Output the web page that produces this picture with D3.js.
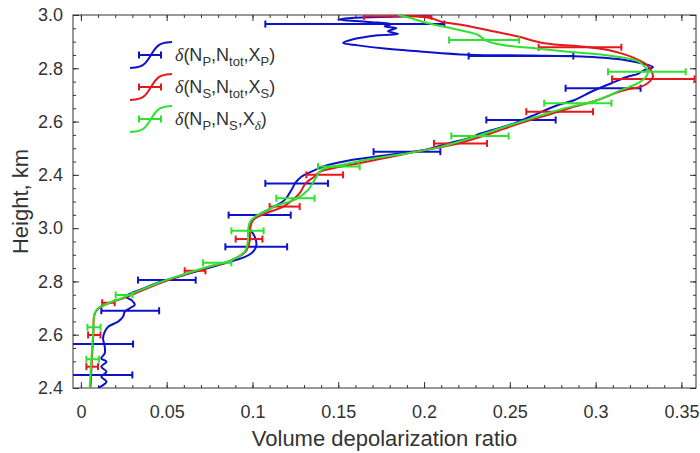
<!DOCTYPE html>
<html>
<head>
<meta charset="utf-8">
<script src="https://cdn.jsdelivr.net/npm/d3@7"></script>
<style>
  body { margin: 0; background: #fff; }
  svg { display: block; font-family: "Liberation Sans", Arial, sans-serif; }
</style>
</head>
<body>
<div id="chart"></div>
<script>
// axis ticks
const xTicks = [0, 0.05, 0.1, 0.15, 0.2, 0.25, 0.3, 0.35];
const xTickLabels = ["0", "0.05", "0.1", "0.15", "0.2", "0.25", "0.3", "0.35"];
const yTicks = [2.4, 2.6, 2.8, 3.0, 3.2, 3.4, 3.6, 3.8];
const yTickLabels = ["2.4", "2.6", "2.8", "3.0", "2.4", "2.6", "2.8", "3.0"];

// curves: [height, ratio]
const blueCurve = [
  [2.40, 0.010], [2.424, 0.0149], [2.442, 0.0119], [2.461, 0.0149], [2.480, 0.0119],
  [2.499, 0.0149], [2.511, 0.0119], [2.530, 0.0139], [2.555, 0.0139], [2.587, 0.0129],
  [2.611, 0.0139], [2.630, 0.0159], [2.649, 0.0217], [2.668, 0.0246], [2.686, 0.0255],
  [2.699, 0.0284], [2.712, 0.0314], [2.730, 0.0294], [2.743, 0.026], [2.752, 0.028],
  [2.775, 0.037], [2.80, 0.047], [2.82, 0.058], [2.845, 0.071], [2.868, 0.084],
  [2.89, 0.095], [2.906, 0.0994], [2.925, 0.1018], [2.943, 0.1023], [2.968, 0.1013],
  [3.0, 0.0984], [3.018, 0.0984], [3.049, 0.1033], [3.075, 0.111], [3.106, 0.1188],
  [3.143, 0.1227], [3.17, 0.125], [3.193, 0.1285], [3.212, 0.1343], [3.237, 0.144],
  [3.256, 0.1576], [3.268, 0.1712], [3.281, 0.1868], [3.293, 0.2003], [3.318, 0.214],
  [3.337, 0.2256], [3.356, 0.2334], [3.394, 0.2528], [3.431, 0.2664], [3.462, 0.2781],
  [3.481, 0.2878], [3.512, 0.2975], [3.544, 0.3092], [3.569, 0.3189], [3.579, 0.3247],
  [3.594, 0.3286], [3.604, 0.3334], [3.631, 0.3169], [3.644, 0.2917], [3.648, 0.2625],
  [3.651, 0.2256], [3.664, 0.1965], [3.674, 0.177], [3.686, 0.1615], [3.695, 0.1528],
  [3.707, 0.1576], [3.724, 0.1732], [3.729, 0.1849], [3.739, 0.179], [3.751, 0.1839],
  [3.757, 0.177], [3.766, 0.181], [3.774, 0.1674], [3.783, 0.1499], [3.789, 0.1576],
  [3.794, 0.1868], [3.799, 0.2043]
];
const redCurve = [
  [2.40, 0.0056], [2.505, 0.0064], [2.605, 0.0073], [2.675, 0.0079], [2.70, 0.0105],
  [2.72, 0.017], [2.74, 0.026], [2.775, 0.039], [2.80, 0.049], [2.825, 0.060],
  [2.855, 0.075], [2.88, 0.088], [2.912, 0.096], [2.956, 0.0985], [2.993, 0.0985],
  [3.031, 0.1005], [3.056, 0.108], [3.081, 0.118], [3.112, 0.1245], [3.131, 0.1275],
  [3.168, 0.131], [3.193, 0.136], [3.212, 0.1395], [3.225, 0.147], [3.243, 0.1615],
  [3.268, 0.181], [3.293, 0.2003], [3.318, 0.2198], [3.356, 0.2392], [3.387, 0.2528],
  [3.425, 0.2723], [3.456, 0.2878], [3.481, 0.3014], [3.506, 0.3111], [3.521, 0.3189],
  [3.531, 0.3266], [3.55, 0.3315], [3.569, 0.3334], [3.60, 0.3315], [3.619, 0.3286],
  [3.638, 0.3227], [3.656, 0.315], [3.669, 0.3072], [3.681, 0.2936], [3.694, 0.2703],
  [3.719, 0.2548], [3.738, 0.2411], [3.763, 0.2217], [3.775, 0.21], [3.788, 0.2043],
  [3.794, 0.1965], [3.80, 0.1868]
];
const greenCurve = [
  [2.40, 0.0051], [2.505, 0.0061], [2.605, 0.0071], [2.68, 0.008], [2.699, 0.010],
  [2.718, 0.0159], [2.737, 0.0236], [2.774, 0.0372], [2.799, 0.0469], [2.824, 0.0586],
  [2.855, 0.0741], [2.88, 0.0877], [2.912, 0.0955], [2.956, 0.0974], [2.993, 0.0974],
  [3.031, 0.0994], [3.056, 0.1052], [3.087, 0.1149], [3.106, 0.1246], [3.143, 0.1324],
  [3.181, 0.1362], [3.218, 0.1402], [3.237, 0.1518], [3.262, 0.1712], [3.281, 0.1907],
  [3.306, 0.2101], [3.343, 0.2295], [3.38, 0.247], [3.412, 0.2625], [3.45, 0.282],
  [3.481, 0.3014], [3.519, 0.315], [3.544, 0.3247], [3.569, 0.3295], [3.594, 0.3305],
  [3.606, 0.3286], [3.619, 0.3266], [3.631, 0.3227], [3.65, 0.3053], [3.662, 0.2839],
  [3.675, 0.2645], [3.688, 0.245], [3.707, 0.2353], [3.725, 0.2315], [3.75, 0.2159],
  [3.769, 0.2023], [3.788, 0.1926], [3.80, 0.1849]
];

// error bars: [height, low, high]
const blueBars = [
  [3.766, 0.1075, 0.2118], [3.646, 0.226, 0.287], [3.525, 0.2825, 0.3262],
  [3.406, 0.2363, 0.2767], [3.287, 0.1706, 0.2095], [3.168, 0.1075, 0.144],
  [3.049, 0.0861, 0.1223], [2.93, 0.0842, 0.1202], [2.805, 0.0333, 0.0669],
  [2.69, 0.0119, 0.0456], [2.565, -0.0056, 0.0304], [2.449, -0.006, 0.030]
];
const redBars = [
  [3.795, 0.165, 0.2043], [3.679, 0.2668, 0.315], [3.56, 0.3096, 0.3577],
  [3.437, 0.2596, 0.2985], [3.318, 0.2058, 0.2367], [3.2, 0.1314, 0.1528],
  [3.081, 0.11, 0.1275], [2.959, 0.0902, 0.1058], [2.84, 0.0605, 0.0726],
  [2.72, 0.0124, 0.0197], [2.599, 0.0042, 0.0114], [2.48, 0.0032, 0.010]
];
const greenBars = [
  [3.706, 0.2146, 0.2554], [3.587, 0.3072, 0.3525], [3.469, 0.27, 0.3092],
  [3.346, 0.2159, 0.2493], [3.231, 0.1382, 0.1625], [3.112, 0.1139, 0.1362],
  [2.99, 0.0877, 0.1065], [2.87, 0.0712, 0.0877], [2.749, 0.0203, 0.030],
  [2.628, 0.0038, 0.0115], [2.508, 0.0032, 0.0106]
];

const series = [
  { name: "blue", color: "#0c12c8", curve: blueCurve, bars: blueBars,
    label: [["δ", "it"], ["(N"], ["P", "sub"], [",N"], ["tot", "sub"], [",X"], ["P", "sub"], [")"]] },
  { name: "red", color: "#e5161c", curve: redCurve, bars: redBars,
    label: [["δ", "it"], ["(N"], ["S", "sub"], [",N"], ["tot", "sub"], [",X"], ["S", "sub"], [")"]] },
  { name: "green", color: "#2fe22f", curve: greenCurve, bars: greenBars,
    label: [["δ", "it"], ["(N"], ["P", "sub"], [",N"], ["S", "sub"], [",X"], ["δ", "subit"], [")"]] }
];

const W = 700, H = 453;
const margin = { top: 15, right: 4, bottom: 65, left: 73 };
const iw = W - margin.left - margin.right;
const ih = H - margin.top - margin.bottom;
const ink = "#333";

const svg = d3.select("#chart").append("svg")
  .attr("width", W).attr("height", H);

const x = d3.scaleLinear().domain([-0.0046, 0.3585]).range([0, iw]);
const y = d3.scaleLinear().domain([2.4, 3.8]).range([ih, 0]);

const g = svg.append("g").attr("transform", `translate(${margin.left},${margin.top})`);

g.append("clipPath").attr("id", "plotclip")
  .append("rect").attr("width", iw).attr("height", ih);

// ticks (inward, all four sides)
const xMinor = d3.range(0, 0.3585, 0.01);
const yMinor = d3.range(2.4, 3.8001, 0.05);

function styleAxis(sel) {
  sel.select(".domain").remove();
  sel.selectAll("line").attr("stroke", ink);
  sel.selectAll("text").attr("fill", ink).style("font-size", "18px")
    .style("font-family", "'Liberation Sans', Arial, sans-serif");
}

g.append("g").attr("transform", `translate(0,${ih})`)
  .call(d3.axisBottom(x).tickValues(xMinor).tickSize(-3).tickFormat(""))
  .call(styleAxis);
g.append("g").attr("transform", `translate(0,${ih})`)
  .call(d3.axisBottom(x).tickValues(xTicks).tickSize(-6).tickPadding(17)
    .tickFormat((d, i) => xTickLabels[i]))
  .call(styleAxis);
g.append("g")
  .call(d3.axisTop(x).tickValues(xMinor).tickSize(-3).tickFormat(""))
  .call(styleAxis);
g.append("g")
  .call(d3.axisTop(x).tickValues(xTicks).tickSize(-6).tickFormat(""))
  .call(styleAxis);

g.append("g")
  .call(d3.axisLeft(y).tickValues(yMinor).tickSize(-3).tickFormat(""))
  .call(styleAxis);
g.append("g")
  .call(d3.axisLeft(y).tickValues(yTicks).tickSize(-6).tickPadding(10)
    .tickFormat((d, i) => yTickLabels[i]))
  .call(styleAxis);
g.append("g").attr("transform", `translate(${iw},0)`)
  .call(d3.axisRight(y).tickValues(yMinor).tickSize(-3).tickFormat(""))
  .call(styleAxis);
g.append("g").attr("transform", `translate(${iw},0)`)
  .call(d3.axisRight(y).tickValues(yTicks).tickSize(-6).tickFormat(""))
  .call(styleAxis);

// frame
g.append("rect").attr("width", iw).attr("height", ih)
  .attr("fill", "none").attr("stroke", ink).attr("stroke-width", 1);

// curves and error bars
const line = d3.line()
  .x(d => x(d[1]))
  .y(d => y(d[0]))
  .curve(d3.curveCatmullRom.alpha(0.5));

const plot = g.append("g").attr("clip-path", "url(#plotclip)");
const cap = 3.5;

series.forEach(s => {
  const sg = plot.append("g").attr("stroke", s.color).attr("fill", "none").attr("stroke-width", 2);
  sg.append("path").datum(s.curve).attr("d", line);
  const bars = sg.selectAll("g.bar").data(s.bars).join("g").attr("class", "bar");
  bars.append("line")
    .attr("x1", d => x(d[1])).attr("x2", d => x(d[2]))
    .attr("y1", d => y(d[0])).attr("y2", d => y(d[0]));
  bars.append("line")
    .attr("x1", d => x(d[1])).attr("x2", d => x(d[1]))
    .attr("y1", d => y(d[0]) - cap).attr("y2", d => y(d[0]) + cap);
  bars.append("line")
    .attr("x1", d => x(d[2])).attr("x2", d => x(d[2]))
    .attr("y1", d => y(d[0]) - cap).attr("y2", d => y(d[0]) + cap);
});

// legend
const legend = svg.append("g").attr("transform", "translate(130,55)");
const sample = d3.line().curve(d3.curveBasis);
series.forEach((s, i) => {
  const lg = legend.append("g").attr("transform", `translate(0,${i * 32})`);
  lg.append("path")
    .attr("d", sample([[0, 13], [14, 12], [21, 0], [28, -12], [42, -13]]))
    .attr("fill", "none").attr("stroke", s.color).attr("stroke-width", 2);
  lg.append("path")
    .attr("d", "M9,0H31M9,-3.5V3.5M31,-3.5V3.5")
    .attr("fill", "none").attr("stroke", s.color).attr("stroke-width", 2);
  const t = lg.append("text").attr("x", 45).attr("y", 6)
    .attr("fill", ink).style("font-size", "18px");
  let shift = 0;
  s.label.forEach(([txt, kind]) => {
    const sub = kind === "sub" || kind === "subit";
    const want = sub ? 5 : 0;
    const ts = t.append("tspan").text(txt).attr("dy", want - shift);
    shift = want;
    if (sub) ts.style("font-size", "13px");
    if (kind === "it" || kind === "subit")
      ts.style("font-family", "'Liberation Serif', serif").style("font-style", "italic");
  });
});

// axis titles
svg.append("text")
  .attr("x", margin.left + iw / 2).attr("y", 446)
  .attr("text-anchor", "middle").attr("fill", ink)
  .style("font-size", "22px")
  .text("Volume depolarization ratio");
svg.append("text")
  .attr("transform", `translate(28,${margin.top + ih / 2}) rotate(-90)`)
  .attr("text-anchor", "middle").attr("fill", ink)
  .style("font-size", "22px")
  .text("Height, km");
</script>
</body>
</html>
